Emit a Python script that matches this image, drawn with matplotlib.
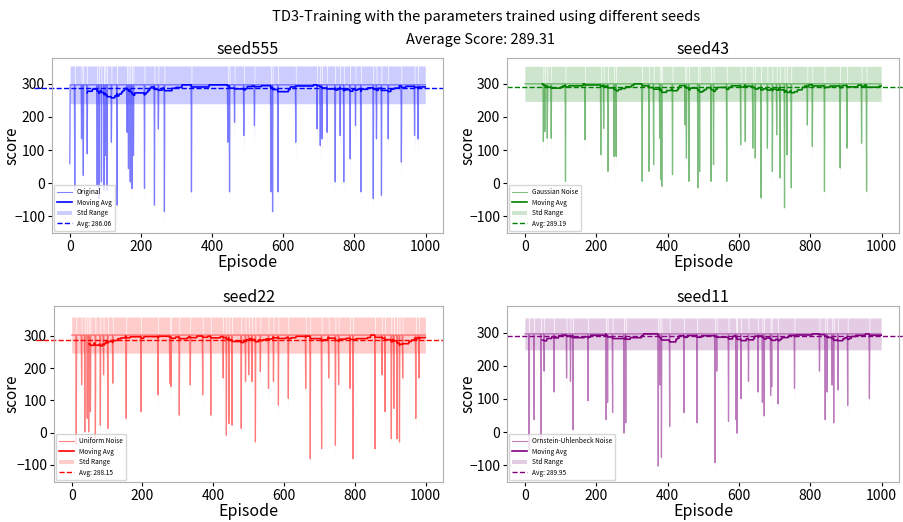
import numpy as np
import matplotlib
matplotlib.use('Agg')
import matplotlib.pyplot as plt
from matplotlib.lines import Line2D
from matplotlib.patches import Patch

plt.rcParams['font.family'] = ['Noto Sans CJK SC', 'DejaVu Sans']

n_episodes = 1000
window = 50

titles = ['seed555', 'seed43', 'seed22', 'seed11']
series_labels = ['Original', 'Gaussian Noise', 'Uniform Noise', 'Ornstein-Uhlenbeck Noise']
colors = ['blue', 'green', 'red', 'purple']
avg_values = [286.06, 289.19, 288.15, 289.95]
baseline = [297, 300, 302, 296]
std_width = [57, 53, 56, 48]
overall_avg = 289.31

seed555_dip_ep = [0, 14, 33, 38, 49, 77, 82, 89, 96, 100, 105, 117, 133, 161, 165, 170, 175, 179,
                  210, 238, 249, 266, 342, 444, 449, 463, 489, 519, 565, 570, 585, 635, 695, 704,
                  709, 723, 746, 760, 770, 788, 803, 818, 853, 862, 876, 895, 932, 969, 979]
seed555_dip_val = [59, -21, 134, 24, 89, -6, -46, 4, -21, 84, -21, 124, -66, 154, 44, 4, -16, 84,
                   -16, -66, 164, -86, -26, 124, -26, 184, 144, 174, -26, -86, -26, 124, 164, 114,
                   134, 154, 4, 144, 4, 74, 174, -26, -46, 134, -36, 134, 64, 144, 134]

seed43_dip_ep = [52, 56, 63, 74, 114, 169, 213, 221, 233, 250, 256, 329, 348, 361, 378, 381, 384,
                 414, 449, 453, 460, 485, 490, 522, 529, 566, 605, 618, 639, 646, 662, 680, 694,
                 706, 715, 728, 735, 747, 792, 806, 840, 884, 903, 944, 958]
seed43_dip_val = [126, 156, 136, 136, 6, 131, 86, 166, 36, 81, 81, 6, 36, 56, 136, 11, -9,
                  26, 176, 76, 6, -14, 36, 6, 56, 6, 116, 126, 106, 76, -44, 106, 36,
                  146, 16, -74, 86, -14, 176, 111, -24, 46, 106, 121, -24]

seed22_dip_ep = [13, 28, 37, 44, 48, 53, 67, 81, 90, 102, 116, 154, 196, 244, 277, 281, 304, 335,
                 370, 393, 428, 437, 444, 453, 479, 491, 500, 509, 519, 533, 556, 570, 584, 612,
                 661, 674, 706, 726, 745, 754, 786, 795, 857, 877, 885, 903, 910, 919, 926, 935,
                 972, 981]
seed22_dip_val = [-39, 148, 2, 44, 2, 65, -19, 23, 179, 13, 153, 44, 65, 117, 153, 143, 54, 148,
                  117, 54, 169, -8, 28, 23, 13, 158, 179, 158, -29, 189, 137, 158, 85, 106,
                  137, -81, -50, 169, -39, 148, 137, -81, -50, 179, 65, -19, 75, -19, -29, 169,
                  44, 169]

seed11_dip_ep = [12, 26, 45, 54, 82, 117, 128, 135, 177, 228, 232, 246, 278, 283, 374, 378, 383,
                 406, 446, 483, 533, 538, 571, 592, 595, 606, 627, 654, 666, 671, 689, 692, 710,
                 756, 826, 842, 847, 861, 866, 878, 905, 966]
seed11_dip_val = [-55, 38, -24, 184, 121, 163, 153, 7, 95, 38, 90, 59, -3, 28, -102, 142, -76,
                  17, 59, 28, -92, 184, 33, 38, -3, 101, 153, 121, 90, 49, 111, 137, 85,
                  132, 184, 38, 121, 142, 28, 127, 80, 101]

dip_eps = [seed555_dip_ep, seed43_dip_ep, seed22_dip_ep, seed11_dip_ep]
dip_vals = [seed555_dip_val, seed43_dip_val, seed22_dip_val, seed11_dip_val]

W, H = 904, 522
fig = plt.figure(figsize=(W / 100, H / 100), dpi=100)

# axes boxes in pixels: left, top, right, bottom
boxes = [(52, 58, 443, 233), (507, 58, 899, 233), (54, 306, 443, 482), (507, 306, 899, 482)]
ylims = [(-150, 378), (-150, 378), (-153, 392), (-150, 380)]
label_right_px = [20, 476, 20, 476]

for i in range(4):
    l, t, r, b = boxes[i]
    ax = fig.add_axes([l / W, 1 - b / H, (r - l) / W, (b - t) / H])
    c = colors[i]
    x = np.arange(n_episodes)
    scores = np.full(n_episodes, float(baseline[i]))
    scores[np.array(dip_eps[i])] = np.array(dip_vals[i], dtype=float)
    sd = std_width[i]
    ax.fill_between(x, scores - sd, scores + sd, color=c, alpha=0.2, lw=0)
    ax.plot(x, scores, color=c, alpha=0.5, lw=0.9)
    ma = np.convolve(scores, np.ones(window) / window, mode='valid')
    ax.plot(np.arange(window - 1, n_episodes), ma, color=c, lw=1.2)
    if i % 2 == 0:
        ax.axhline(avg_values[i], color=c, ls='--', lw=1, xmin=-0.045, xmax=1.0, clip_on=False)
    else:
        ax.axhline(avg_values[i], color=c, ls='--', lw=1, xmin=0.0, xmax=1.01, clip_on=False)
    ax.set_ylim(*ylims[i])
    ax.set_xticks([0, 200, 400, 600, 800, 1000])
    ax.set_yticks([-100, 0, 100, 200, 300])
    ax.tick_params(labelsize=10, length=3, pad=2)
    ax.set_title(titles[i], fontsize=11.5, pad=3)
    ax.set_xlabel('Episode', fontsize=11.5, labelpad=0)
    ax.set_ylabel('score', fontsize=11)
    ax.yaxis.set_label_coords((label_right_px[i] - l) / (r - l), 0.5)
    for sp in ax.spines.values():
        sp.set_color('#b0b0b0')
        sp.set_linewidth(0.8)
    handles = [
        Line2D([0], [0], color=c, alpha=0.5, lw=0.8),
        Line2D([0], [0], color=c, lw=1.2),
        Patch(facecolor=c, alpha=0.2, edgecolor='none'),
        Line2D([0], [0], color=c, ls='--', lw=1),
    ]
    names = [series_labels[i], 'Moving Avg', 'Std Range', f'Avg: {avg_values[i]:.2f}']
    ax.legend(handles, names, loc='lower left', fontsize=4.7, frameon=True,
              borderaxespad=0.3, handlelength=2.2, labelspacing=0.4, borderpad=0.5)

fig.text(0.538, 1 - 17 / H, 'TD3-Training with the parameters trained using different seeds',
         ha='center', va='center', fontsize=10.5)
fig.text(0.532, 1 - 40 / H, f'Average Score: {overall_avg:.2f}',
         ha='center', va='center', fontsize=10.5)

fig.savefig('out.png', dpi=100)
